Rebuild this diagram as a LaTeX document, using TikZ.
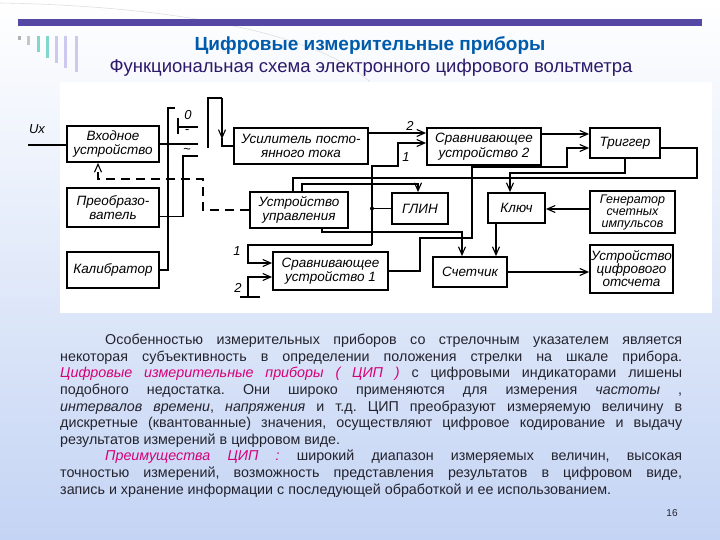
\documentclass[tikz,border=0pt]{standalone}
\usepackage{fontspec}
\setmainfont{Liberation Sans}
\usetikzlibrary{positioning,arrows.meta}
\frenchspacing
\definecolor{SlideBar}{RGB}{84,72,164}
\definecolor{TitleBlue}{RGB}{0,92,170}
\definecolor{SubInk}{RGB}{45,25,105}
\definecolor{TextInk}{RGB}{35,35,45}
\definecolor{Accent}{RGB}{214,0,120}
\definecolor{SlideBlue}{RGB}{196,212,244}
\definecolor{BarTeal}{RGB}{130,215,205}
\definecolor{BarLilac}{RGB}{205,200,238}

\begin{document}
\begin{tikzpicture}[x=1pt,y=-1pt,
  blk/.style={draw,line width=1.8pt,fill=white,align=center,inner sep=1pt,
    font=\fontsize{13.5}{14.5}\selectfont\itshape},
  lbl/.style={font=\fontsize{13}{13}\selectfont\itshape,inner sep=1pt},
  wire/.style={line width=1.5pt},
  arr/.style={wire,-{Straight Barb[length=8pt,width=7pt,line width=1.1pt]}},
  darr/.style={arr,dash pattern=on 9pt off 6pt}]
  % slide background
  \shade[top color=white,bottom color=SlideBlue] (0,0) rectangle (720,540);
  \useasboundingbox (0,0) rectangle (720,540);
  \draw[gray!25,line width=0.6pt] (0,3) .. controls (180,6) and (320,35) .. (370,82);
  \fill[SlideBar] (18,19) rectangle (702,26);
  \fill[gray!60] (18,36) rectangle (21,40);
  \fill[gray!45] (27,36) rectangle (30,45);
  \fill[BarTeal] (37,36) rectangle (40,52);
  \fill[BarTeal] (46,36) rectangle (49,58);
  \fill[BarLilac] (55,36) rectangle (58,63);
  \fill[BarLilac] (64,36) rectangle (67,68);
  \fill[BarLilac] (75,36) rectangle (78,72);
  \node[font=\fontsize{19}{19}\selectfont\bfseries,text=TitleBlue] (title) at (370,46) {Цифровые измерительные приборы};
  \node[font=\fontsize{18.5}{19}\selectfont,text=SubInk] (subtitle) at (371,68) {Функциональная схема электронного цифрового вольтметра};
  \fill[white] (60,82) rectangle (712,313);

  % blocks
  \node[blk,minimum width=92pt,minimum height=36pt] (vhod) at (113,144) {Входное\\устройство};
  \node[blk,minimum width=92pt,minimum height=39pt] (preob) at (113,207.5) {Преобразо-\\ватель};
  \node[blk,minimum width=92pt,minimum height=36pt] (kalib) at (113,270) {Калибратор};
  \node[blk,minimum width=134pt,minimum height=36pt] (usil) at (301,146) {Усилитель посто-\\янного тока};
  \node[blk,minimum width=114pt,minimum height=37pt] (srav2) at (484,146.5) {Сравнивающее\\устройство 2};
  \node[blk,minimum width=70pt,minimum height=30pt] (trig) at (625,143) {Триггер};
  \node[blk,minimum width=98pt,minimum height=36pt] (upr) at (299,210) {Устройство\\управления};
  \node[blk,minimum width=56pt,minimum height=31pt] (glin) at (420,208.5) {ГЛИН};
  \node[blk,minimum width=57pt,minimum height=30pt] (kluch) at (516.5,208) {Ключ};
  \node[blk,minimum width=85pt,minimum height=42pt,font=\fontsize{12.5}{12}\selectfont\itshape] (gen) at (632.5,212) {Генератор\\счетных\\импульсов};
  \node[blk,minimum width=115pt,minimum height=38pt] (srav1) at (330.5,271) {Сравнивающее\\устройство 1};
  \node[blk,minimum width=74pt,minimum height=30pt] (schet) at (470,272) {Счетчик};
  \node[blk,minimum width=83pt,minimum height=48pt,inner sep=0pt,font=\fontsize{13.5}{13}\selectfont\itshape] (otsch) at (631.5,269) {Устройство\\цифрового\\отсчета};

  % input and switch
  \coordinate (ux) at (28,145);
  \node[lbl] (uxlab) at (37,129) {Ux};
  \draw[wire] (ux) -- (vhod.west |- ux);
  \coordinate (kdc) at (198,144);
  \coordinate (kac) at (198,156);
  \coordinate (kzero) at (198,127);
  \draw[wire] (vhod.east) -- (kdc);
  \draw[wire] ([yshift=-9pt]preob.east) -| (183,156) -- (kac);
  \draw[wire] (kalib.east) -| (168,108) -- (175,108);
  \draw[line width=2.8pt] (178,118) -- (178,134);
  \draw[wire] (178,127) -- (kzero);
  \node[lbl] (zlab) at (188,115) {0};
  \node[lbl] (dclab) at (187,132) {-};
  \node[lbl] (aclab) at (187,151) {\textasciitilde};
  \draw[wire] (208,148) |- (222,98);
  \draw[arr] (222,98) -- (222,139);
  \draw[wire] (222,138) |- (usil.west);

  % comparators
  \draw[arr] (usil.east |- 0,133) -- (srav2.west |- 0,133) node[lbl,pos=0.72,above=1pt] (l2a) {2};
  \draw[wire] (glin.west) -- (372,208.5);
  \fill (372,208.5) circle (2pt);
  \draw[arr] (372,245) |- (398,166) |- (srav2.west |- 0,143);
  \node[lbl] (l1a) at (406,157) {1};
  \draw[arr] (372,245) -| (248,263) -- (srav1.west |- 0,263);
  \node[lbl] (l1b) at (237,251) {1};
  \draw[arr] (248,297) -- (248,277) -- (srav1.west |- 0,277);
  \draw[line width=2.2pt] (240,297) -- (260,297);
  \node[lbl] (l2b) at (238,288) {2};
  \draw[arr] (srav2.east |- 0,134) -- (trig.west |- 0,134);
  \draw[arr] (srav1.east) -| (420,238) -| (472,167) -| (567,148) -- (trig.west |- 0,148);

  % control unit
  \draw[darr] (upr.west) -| (203,179) -| ([xshift=-15pt]vhod.south);
  \draw[wire] (trig.east |- 0,148) -| (697,178) -| (upr.north -| 293,0);
  \draw[arr] (upr.north -| 302,0) |- (418,184) -- (glin.north -| 418,0);
  \draw[arr] (trig.south) |- (510,173) -- (kluch.north -| 510,0);
  \draw[arr] (upr.south -| 322,0) |- (462,232) -- (schet.north -| 462,0);

  % counter chain
  \draw[arr] (gen.west |- 0,209) -- (kluch.east |- 0,209);
  \draw[arr] (kluch.south -| 496,0) -- (schet.north -| 496,0);
  \draw[arr] (schet.east) -- (otsch.west |- schet.east);

  % text
  \node[anchor=north west,inner sep=0pt,align=left,text=TextInk,font=\fontsize{14.3}{16.6}\selectfont] (para) at (60,334) {%
    \hbox to 622pt{\hspace*{45pt}Особенностью измерительных приборов со стрелочным указателем является}\\
    \hbox to 622pt{некоторая субъективность в определении положения стрелки на шкале прибора.}\\
    \hbox to 622pt{\textcolor{Accent}{\itshape Цифровые измерительные приборы ( ЦИП )} с цифровыми индикаторами лишены}\\
    \hbox to 622pt{подобного недостатка. Они широко применяются для измерения {\itshape частоты} ,}\\
    \hbox to 622pt{{\itshape интервалов времени}, {\itshape напряжения} и т.д. ЦИП преобразуют измеряемую величину в}\\
    \hbox to 622pt{дискретные (квантованные) значения, осуществляют цифровое кодирование и выдачу}\\
    \hbox to 622pt{результатов измерений в цифровом виде.\hfill}\\
    \hbox to 622pt{\hspace*{45pt}\textcolor{Accent}{\itshape Преимущества ЦИП :} широкий диапазон измеряемых величин, высокая}\\
    \hbox to 622pt{точностью измерений, возможность представления результатов в цифровом виде,}\\
    \hbox to 622pt{запись и хранение информации с последующей обработкой и ее использованием.\hfill}};
  \node[font=\fontsize{10}{10}\selectfont,text=TextInk] (pagenum) at (672,513) {16};
\end{tikzpicture}
\end{document}
